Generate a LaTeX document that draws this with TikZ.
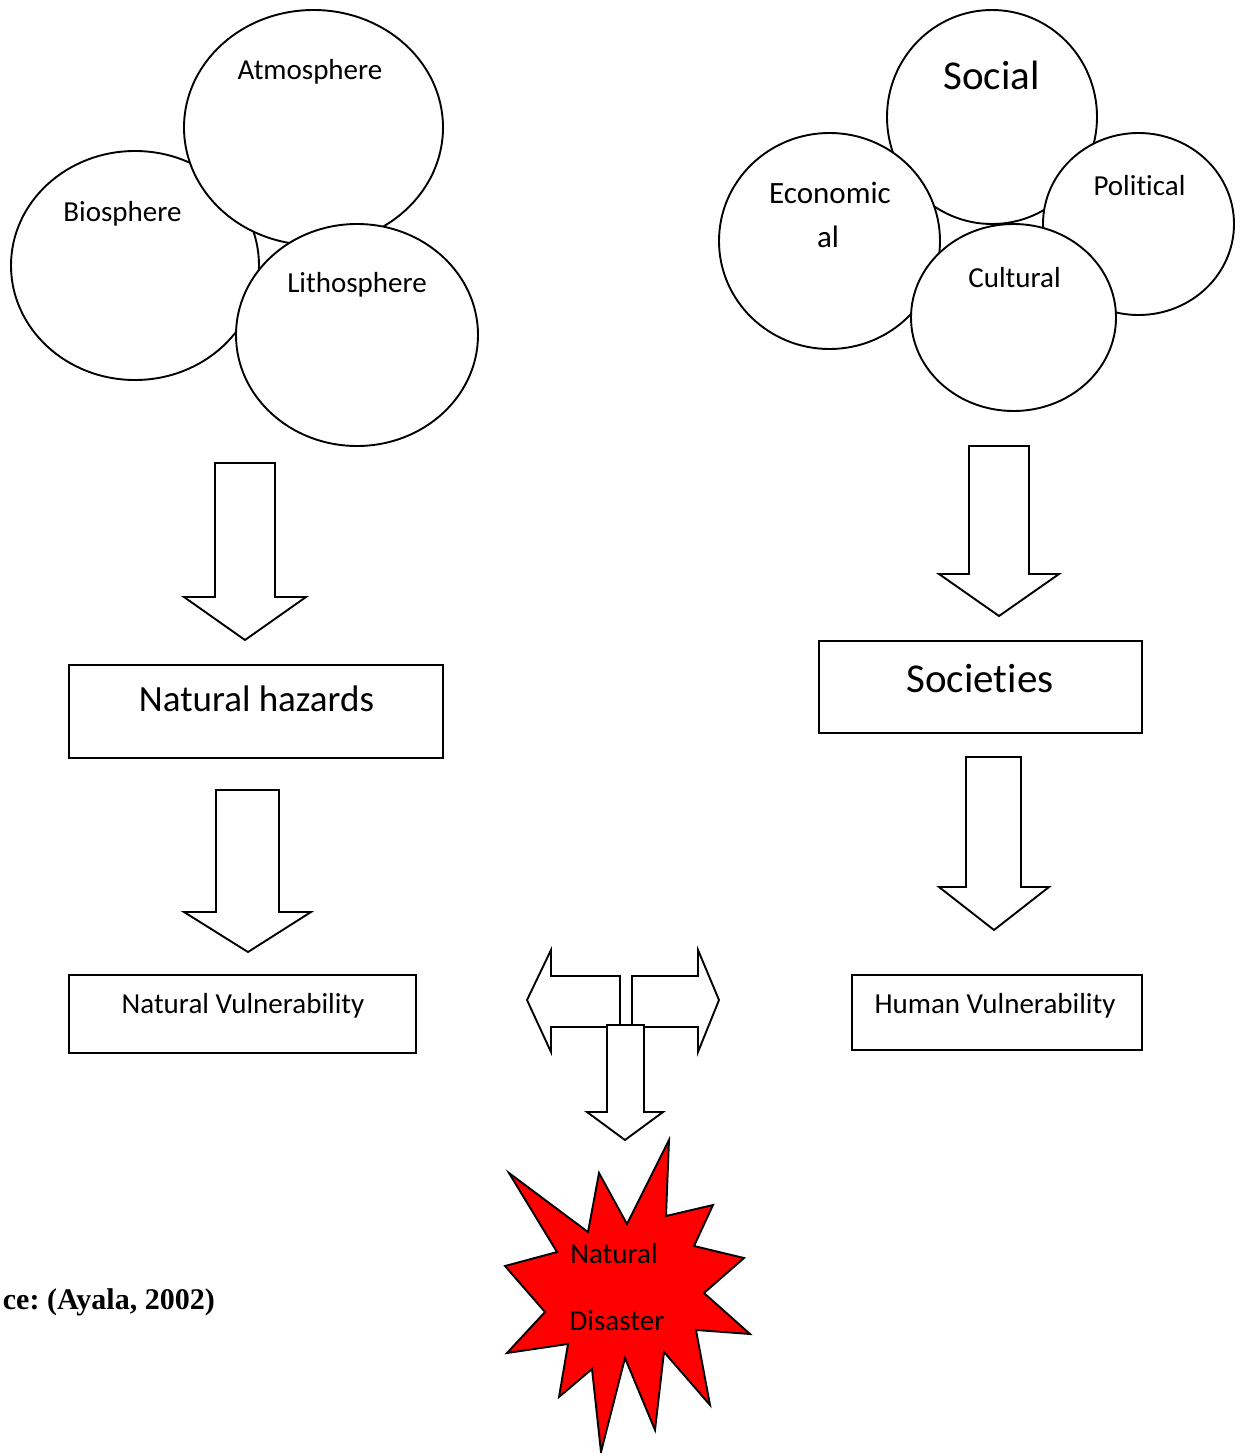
\documentclass[tikz,border=0pt]{standalone}
\usepackage{fontspec}
\setmainfont{Carlito}[Ligatures={NoCommon}]
\newfontfamily\srcfont{Liberation Serif}
\usetikzlibrary{shapes.geometric}
\definecolor{burst}{RGB}{255,0,0}
\frenchspacing
\begin{document}
\begin{tikzpicture}[x=1pt,y=-1pt,
  bubble/.style={draw, ellipse, fill=white, line width=1.9pt, inner sep=0pt},
  box/.style={draw, rectangle, line width=1.9pt, inner sep=0pt},
  txt/.style={anchor=base, inner sep=0pt, font=\fontsize{29}{34}\selectfont},
  midtxt/.style={anchor=base, inner sep=0pt, font=\fontsize{31}{36}\selectfont},
  bigtxt/.style={anchor=base, inner sep=0pt, font=\fontsize{37}{44}\selectfont},
  hugetxt/.style={anchor=base, inner sep=0pt, font=\fontsize{41}{48}\selectfont},
  blockarrow/.style={draw, fill=white, line width=1.9pt, line join=miter},
]
\useasboundingbox (0,0) rectangle (1240,1453);

% ---- natural spheres ----
\node[bubble, minimum width=248pt, minimum height=229pt] (bio) at (135,265.5) {};
\node[bubble, minimum width=259pt, minimum height=235pt] (atm) at (313.5,127.5) {};
\node[bubble, minimum width=242pt, minimum height=222pt] (lith) at (357,335) {};
\node[txt] (atmtxt) at (310,80) {Atmosphere};
\node[txt] (biotxt) at (122.5,221) {Biosphere};
\node[txt] (lithtxt) at (357,292) {Lithosphere};

% ---- social spheres ----
\node[bubble, minimum width=210pt, minimum height=214pt] (soc) at (992,117) {};
\node[bubble, minimum width=221pt, minimum height=216pt] (eco) at (829.5,241) {};
\node[bubble, minimum width=191pt, minimum height=182pt] (pol) at (1138.5,224) {};
\node[bubble, minimum width=205pt, minimum height=187pt] (cul) at (1013.5,317.5) {};
\node[hugetxt] (soctxt) at (991.5,90) {Social};
\node[midtxt] (ecotxt) at (830,203) {Economic};
\node[midtxt] (ecotxtb) at (828,247) {al};
\node[txt] (poltxt) at (1139.5,195) {Political};
\node[txt] (cultxt) at (1014.5,287) {Cultural};

% ---- boxes ----
\node[box, minimum width=374pt, minimum height=93pt] (haz) at (256,711.5) {};
\node[bigtxt] (haztxt) at (256.5,711) {Natural hazards};
\node[box, minimum width=347pt, minimum height=78pt] (nvul) at (242.5,1014) {};
\node[txt] (nvultxt) at (243,1013) {Natural Vulnerability};
\node[box, minimum width=323pt, minimum height=92pt] (socs) at (980.5,687) {};
\node[hugetxt] (socstxt) at (980,692) {Societies};
\node[box, minimum width=290pt, minimum height=75pt] (hvul) at (997,1012.5) {};
\node[txt] (hvultxt) at (995,1013) {Human Vulnerability};

% ---- block arrows ----
\draw[blockarrow] (215,463) -- (275,463) -- (275,597) -- (306,597) -- (245,640)
  -- (184,597) -- (215,597) -- cycle;
\draw[blockarrow] (216,790) -- (279,790) -- (279,912) -- (311,912) -- (248,952)
  -- (184,912) -- (216,912) -- cycle;
\draw[blockarrow] (969,446) -- (1029,446) -- (1029,574) -- (1059,574) -- (999,616)
  -- (939,574) -- (969,574) -- cycle;
\draw[blockarrow] (966,757) -- (1021,757) -- (1021,887) -- (1049,887) -- (994,930)
  -- (939,887) -- (966,887) -- cycle;

% three-way arrow
\draw[blockarrow] (527,1000) -- (551,950) -- (551,976) -- (620,976) -- (620,1027)
  -- (551,1027) -- (551,1052) -- cycle;
\draw[blockarrow] (719,1000) -- (698,950) -- (698,976) -- (632,976) -- (632,1027)
  -- (698,1027) -- (698,1052) -- cycle;
\draw[blockarrow] (607,1025) -- (644,1025) -- (644,1112) -- (663,1112) -- (625,1140)
  -- (587,1112) -- (607,1112) -- cycle;

% ---- disaster burst ----
\draw[fill=burst, line width=1.9pt, line join=miter]
  (669,1140) -- (666,1216) -- (713,1205) -- (694,1246) -- (744,1258) -- (704,1293)
  -- (750,1334) -- (696,1330) -- (710,1405) -- (664,1352) -- (655,1430) -- (625,1358)
  -- (601,1452) -- (592,1369) -- (559,1397) -- (568,1344) -- (507,1353) -- (545,1312)
  -- (505,1266) -- (557,1252) -- (509,1173) -- (588,1232) -- (599,1173) -- (627,1224)
  -- cycle;
\node[txt] (nattxt) at (614,1263) {Natural};
\node[txt] (distxt) at (617,1330) {Disaster};

% ---- source line ----
\node[anchor=base east, inner sep=0pt, font=\srcfont\bfseries\fontsize{30}{36}\selectfont]
  (src) at (215,1309) {ce: (Ayala, 2002)};
\end{tikzpicture}
\end{document}
